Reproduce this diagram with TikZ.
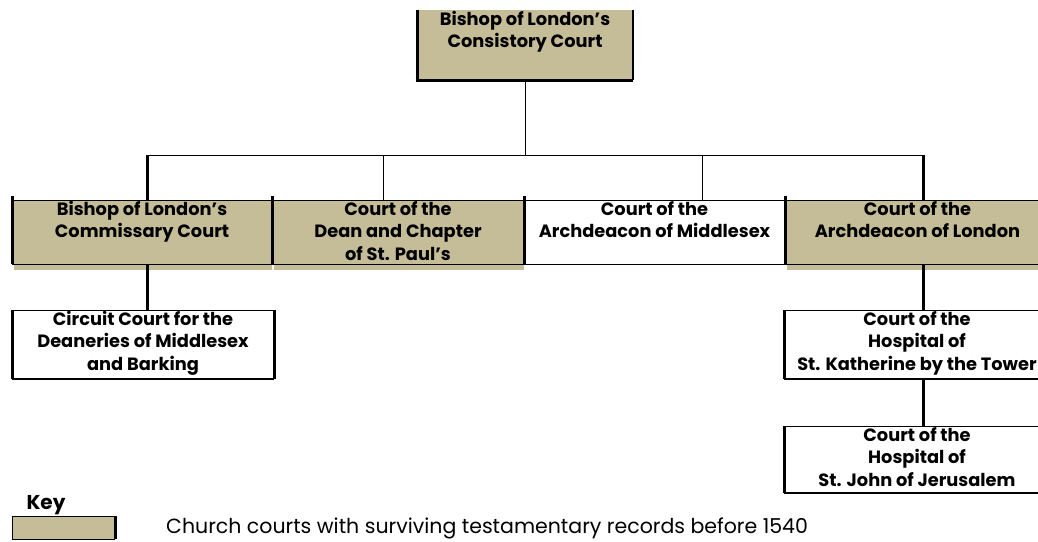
\documentclass[tikz,border=0pt]{standalone}
\usepackage{fontspec}
\setmainfont{Poppins}
\usetikzlibrary{calc,backgrounds}
\definecolor{courttan}{HTML}{C4BD97}
\newcommand{\courtfont}{\fontsize{17.8}{22.5}\selectfont\bfseries}
\newcommand{\keyfont}{\fontsize{20.5}{24}\selectfont}
\tikzset{
  courtbox/.style={inner sep=0pt,outer sep=0pt,anchor=north west,
    label={[courttext]north:{#1}}},
  courttext/.style={anchor=north,inner sep=0pt,yshift=-1pt,align=center,font=\courtfont},
  thinrule/.style={line width=1pt},
  midrule/.style={line width=2pt},
  heavyrule/.style={line width=3pt},
  tanfill/.style={fill=courttan}
}
\begin{document}
\begin{tikzpicture}[x=1pt,y=-1pt]
\useasboundingbox (0,0) rectangle (1038,541);
% the courts
\node[courtbox={Bishop of London's\\Consistory Court},minimum width=216pt,minimum height=70pt] (consistory) at (417,10) {};
\node[courtbox={Bishop of London's\\Commissary Court},minimum width=260pt,minimum height=64pt] (commissary) at (12,200) {};
\node[courtbox={Court of the\\Dean and Chapter\\of St. Paul's},minimum width=252pt,minimum height=64pt] (dean) at (272,200) {};
\node[courtbox={Court of the\\Archdeacon of Middlesex},minimum width=261pt,minimum height=64pt] (archmid) at (524,200) {};
\node[courtbox={Court of the\\Archdeacon of London},minimum width=265pt,minimum height=64pt] (archlon) at (785,200) {};
\node[courtbox={Circuit Court for the\\Deaneries of Middlesex\\and Barking},minimum width=262pt,minimum height=69pt] (circuit) at (12,310) {};
\node[courtbox={Court of the\\Hospital of\\St. Katherine by the Tower},minimum width=266pt,minimum height=69pt] (katherine) at (784,310) {};
\node[courtbox={Court of the\\Hospital of\\St. John of Jerusalem},minimum width=266pt,minimum height=67pt] (jerusalem) at (784,426) {};

% fills
\begin{scope}[on background layer]
  \fill[tanfill] (consistory.north west) rectangle (consistory.south east);
  \foreach \n in {commissary,dean,archlon}
    \fill[tanfill] ($(\n.north west)+(2,0)$) rectangle ($(\n.south east)+(0,6)$);
\end{scope}

% box edges
\draw[heavyrule] (consistory.north west) -- (consistory.south west);
\draw[midrule] (consistory.north east) -- (consistory.south east);
\draw[heavyrule] ([xshift=-1.5pt]consistory.south west) -- (consistory.south east);
\draw[thinrule] (commissary.north west) -- (archlon.north east);
\draw[thinrule] (commissary.south west) -- (archlon.south east);
\foreach \n in {commissary,dean,archmid,archlon}
  \draw[heavyrule] ($(\n.north west)+(0,-4)$) -- (\n.south west);
\draw[heavyrule] (circuit.north west) -- (circuit.south west);
\draw[heavyrule] (circuit.north east) -- (circuit.south east);
\foreach \n in {circuit,katherine,jerusalem}{
  \draw[thinrule] (\n.north west) -- (\n.north east);
  \draw[midrule] (\n.south west) -- (\n.south east);
}
\draw[heavyrule] (katherine.north west) -- (katherine.south west);
\draw[heavyrule] (jerusalem.north west) -- (jerusalem.south west);

% connectors
\coordinate (bus) at ($(consistory.south)+(0,75)$);
\coordinate (d1) at ($(commissary.north)+(5,0)$);
\coordinate (d2) at ($(dean.north)+(-15,0)$);
\coordinate (d3) at ($(archmid.north)+(48,0)$);
\coordinate (d4) at ($(archlon.north)+(5.5,0)$);
\draw[thinrule] (consistory.south) -- (bus);
\draw[thinrule] (d1 |- bus) -- (d4 |- bus);
\draw[heavyrule] (d1 |- bus) -- (d1);
\draw[thinrule] (d2 |- bus) -- (d2);
\draw[thinrule] (d3 |- bus) -- (d3);
\draw[heavyrule] (d4 |- bus) -- (d4);
\draw[heavyrule] (d1 |- commissary.south) -- (d1 |- circuit.north);
\draw[heavyrule] (d4 |- archlon.south) -- (d4 |- katherine.north);
\draw[heavyrule] (d4 |- katherine.south) -- (d4 |- jerusalem.north);

% key
\node[font=\fontsize{20}{24}\selectfont\bfseries,inner sep=0pt] (keyhead) at (46,505) {Key};
\node[inner sep=0pt,outer sep=0pt,anchor=north west,minimum width=103pt,minimum height=23pt] (keybox) at (12,516) {};
\fill[tanfill] (keybox.north west) rectangle (keybox.south east);
\draw[thinrule] (keybox.north east) -- (keybox.north west) -- (keybox.south west) -- (keybox.south east);
\draw[heavyrule] (keybox.north east) -- (keybox.south east);
\node[font=\keyfont,inner sep=0pt,anchor=base west] (keytext) at (166,533) {Church courts with surviving testamentary records before 1540};
\end{tikzpicture}
\end{document}
